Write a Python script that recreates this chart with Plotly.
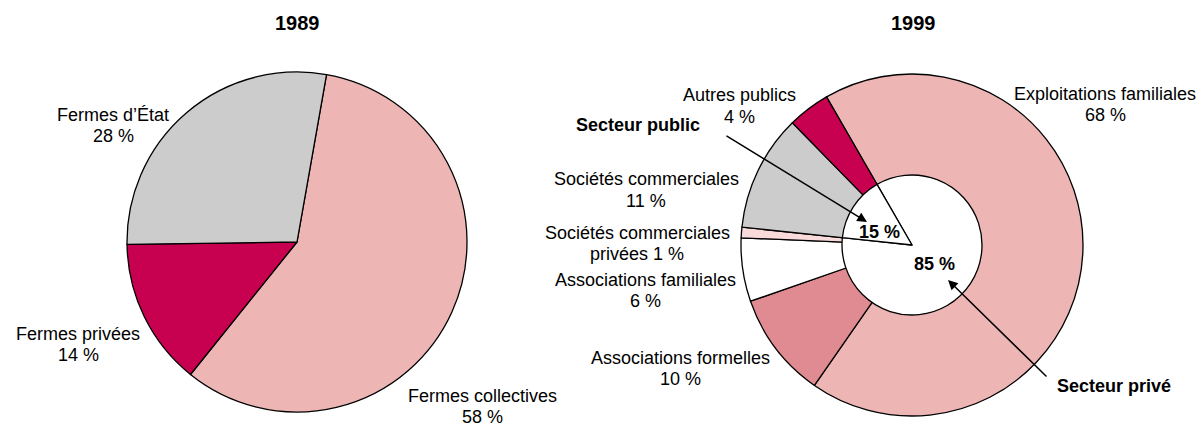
import plotly.graph_objects as go

# ---- data -------------------------------------------------------------
labels_1989 = ["Fermes collectives", "Fermes privées", "Fermes d’État"]
values_1989 = [58, 14, 28]
colors_1989 = ["#EDB6B5", "#C80050", "#CCCCCC"]

labels_1999 = ["Exploitations familiales", "Associations formelles",
               "Associations familiales", "Sociétés commerciales<br>privées",
               "Sociétés commerciales", "Autres publics"]
values_1999 = [68, 10, 6, 1, 11, 4]
colors_1999 = ["#EDB6B5", "#E08B92", "#FFFFFF", "#F9DADA", "#CCCCCC", "#C80050"]

sector_labels = ["Secteur privé", "Secteur public"]
sector_values = [85, 15]

titles = ["1989", "1999"]

# ---- geometry helpers (pixel layout -> paper coords) -------------------
W, H = 1202, 426
FONT = "Liberation Sans, Arial, sans-serif"


def dom(cx, cy, r):
    return dict(x=[(cx - r) / W, (cx + r) / W],
                y=[(H - cy - r) / H, (H - cy + r) / H])


def px(x):
    return x / W


def py(y):
    return 1 - y / H


line = dict(color="black", width=1.3)

fig = go.Figure()

fig.add_trace(go.Pie(
    labels=labels_1989, values=values_1989, sort=False, direction="clockwise",
    rotation=10, marker=dict(colors=colors_1989, line=line),
    textinfo="none", hoverinfo="skip", domain=dom(297, 242, 170)))

fig.add_trace(go.Pie(
    labels=labels_1999, values=values_1999, sort=False, direction="clockwise",
    rotation=-30, hole=0.4, marker=dict(colors=colors_1999, line=line),
    textinfo="none", hoverinfo="skip", domain=dom(912, 245, 171)))

fig.add_trace(go.Pie(
    labels=sector_labels, values=sector_values, sort=False, direction="clockwise",
    rotation=-30, marker=dict(colors=["#FFFFFF", "#FFFFFF"], line=line),
    textinfo="none", hoverinfo="skip", domain=dom(912, 245, 70)))

annotations = []


def text_block(lines, cx, cy, bold=False, gap=21, size=18):
    n = len(lines)
    for i, t in enumerate(lines):
        y = cy + (i - (n - 1) / 2) * gap
        annotations.append(dict(
            text=f"<b>{t}</b>" if bold else t, x=px(cx), y=py(y),
            xref="paper", yref="paper", xanchor="center", yanchor="middle",
            showarrow=False, font=dict(family=FONT, size=size, color="black")))


# titles
text_block([f"{titles[0]}"], 297, 23, bold=True, size=20)
text_block([f"{titles[1]}"], 913, 23, bold=True, size=20)

# 1989 slice labels
pos_1989 = [(482, 406), (78, 344), (113, 125)]
for lab, val, (cx, cy) in zip(labels_1989, values_1989, pos_1989):
    text_block([lab, f"{val} %"], cx, cy)

# 1999 slice labels
pos_1999 = [(1105, 104), (680, 368), (645, 290), (637, 243), (646, 190), (739, 106)]
for lab, val, (cx, cy) in zip(labels_1999, values_1999, pos_1999):
    parts = lab.split("<br>")
    if len(parts) == 2:
        lines = [parts[0], f"{parts[1]} {val} %"]
    else:
        lines = [lab, f"{val} %"]
    text_block(lines, cx, cy)

# inner sector shares
text_block([f"{sector_values[0]} %"], 934, 264, bold=True)
text_block([f"{sector_values[1]} %"], 879, 232, bold=True)

# sector captions with arrows
text_block([sector_labels[1]], 638, 125, bold=True)
text_block([sector_labels[0]], 1114, 386, bold=True)

for (tx, ty), (sx, sy) in [((867, 222), (725, 135)), ((948, 280), (1048, 378))]:
    annotations.append(dict(
        text="", x=px(tx), y=py(ty), xref="paper", yref="paper",
        ax=sx - tx, ay=sy - ty, showarrow=True, arrowhead=2, arrowsize=1.3,
        arrowwidth=1.5, arrowcolor="black", standoff=0))

fig.update_layout(
    width=W, height=H, margin=dict(l=0, r=0, t=0, b=0),
    paper_bgcolor="white", plot_bgcolor="white", showlegend=False,
    annotations=annotations, font=dict(family=FONT))

fig.write_html("out.html")
